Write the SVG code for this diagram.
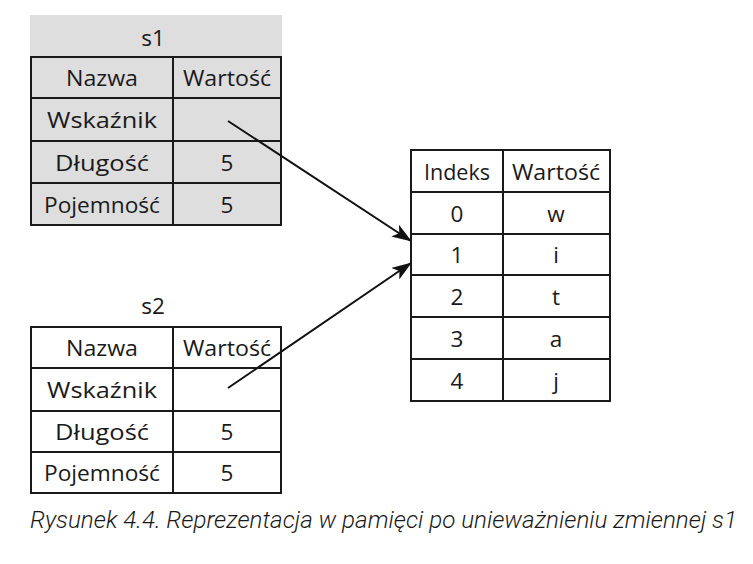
<svg xmlns="http://www.w3.org/2000/svg" width="753" height="564" viewBox="0 0 753 564">
  <style>
    .cell { stroke: #1a1a1a; stroke-width: 2; }
    .shade { fill: #dedede; }
    .plain { fill: #ffffff; }
    .t { font-family: "Open Sans", "Noto Sans", sans-serif; font-size: 22.5px; fill: #1a1a1a; text-anchor: middle; dominant-baseline: central; }
    .cap { font-family: "Roboto", "Liberation Sans", sans-serif; font-style: italic; font-weight: 300; font-size: 24px; fill: #1a1a1a; }
    .conn { stroke: #111; stroke-width: 2; fill: none; marker-end: url(#arrow); }
  </style>
  <defs>
    <marker id="arrow" viewBox="0 0 20 14" refX="19" refY="7" markerWidth="20" markerHeight="14" markerUnits="userSpaceOnUse" orient="auto">
      <path d="M0,0 L20,7 L0,14 L5,7 Z" fill="#111"/>
    </marker>
  </defs>
  <rect width="753" height="564" fill="#ffffff"/>

  <!-- s1 structure (shaded) -->
  <g id="s1">
    <rect x="30" y="15" width="252" height="42" class="shade"/>
    <text x="153" y="37" class="t">s1</text>
    <rect x="31" y="57" width="250" height="168" class="shade cell"/>
    <line x1="173" y1="57" x2="173" y2="225" class="cell"/>
    <line x1="31" y1="98" x2="281" y2="98" class="cell"/>
    <line x1="31" y1="141" x2="281" y2="141" class="cell"/>
    <line x1="31" y1="183" x2="281" y2="183" class="cell"/>
    <text x="102" y="77" class="t" textLength="72" lengthAdjust="spacingAndGlyphs">Nazwa</text>
    <text x="227" y="77" class="t" textLength="88" lengthAdjust="spacingAndGlyphs">Wartość</text>
    <text x="102" y="119" class="t" textLength="110" lengthAdjust="spacingAndGlyphs">Wskaźnik</text>
    <text x="102" y="162" class="t" textLength="94" lengthAdjust="spacingAndGlyphs">Długość</text>
    <text x="227" y="162" class="t">5</text>
    <text x="102" y="204" class="t" textLength="116" lengthAdjust="spacingAndGlyphs">Pojemność</text>
    <text x="227" y="204" class="t">5</text>
  </g>

  <!-- s2 structure -->
  <g id="s2">
    <text x="153" y="305" class="t">s2</text>
    <rect x="31" y="327" width="250" height="166" class="plain cell"/>
    <line x1="173" y1="327" x2="173" y2="493" class="cell"/>
    <line x1="31" y1="368" x2="281" y2="368" class="cell"/>
    <line x1="31" y1="411" x2="281" y2="411" class="cell"/>
    <line x1="31" y1="452" x2="281" y2="452" class="cell"/>
    <text x="102" y="347" class="t" textLength="72" lengthAdjust="spacingAndGlyphs">Nazwa</text>
    <text x="227" y="347" class="t" textLength="88" lengthAdjust="spacingAndGlyphs">Wartość</text>
    <text x="102" y="389" class="t" textLength="110" lengthAdjust="spacingAndGlyphs">Wskaźnik</text>
    <text x="102" y="431" class="t" textLength="94" lengthAdjust="spacingAndGlyphs">Długość</text>
    <text x="227" y="431" class="t">5</text>
    <text x="102" y="472" class="t" textLength="116" lengthAdjust="spacingAndGlyphs">Pojemność</text>
    <text x="227" y="472" class="t">5</text>
  </g>

  <!-- heap buffer -->
  <g id="heap">
    <rect x="411" y="150" width="199" height="251" class="plain cell"/>
    <line x1="503" y1="150" x2="503" y2="401" class="cell"/>
    <line x1="411" y1="192" x2="610" y2="192" class="cell"/>
    <line x1="411" y1="234" x2="610" y2="234" class="cell"/>
    <line x1="411" y1="275" x2="610" y2="275" class="cell"/>
    <line x1="411" y1="317" x2="610" y2="317" class="cell"/>
    <line x1="411" y1="359" x2="610" y2="359" class="cell"/>
    <text x="457" y="171" class="t" textLength="66" lengthAdjust="spacingAndGlyphs">Indeks</text>
    <text x="556" y="171" class="t" textLength="88" lengthAdjust="spacingAndGlyphs">Wartość</text>
    <text x="457" y="213" class="t">0</text>
    <text x="556" y="213" class="t">w</text>
    <text x="457" y="254" class="t">1</text>
    <text x="556" y="254" class="t">i</text>
    <text x="457" y="296" class="t">2</text>
    <text x="556" y="296" class="t">t</text>
    <text x="457" y="338" class="t">3</text>
    <text x="556" y="338" class="t">a</text>
    <text x="457" y="380" class="t">4</text>
    <text x="556" y="380" class="t">j</text>
  </g>

  <!-- pointers -->
  <g id="connectors">
    <line x1="228" y1="121" x2="411" y2="241" class="conn"/>
    <line x1="228" y1="388" x2="411" y2="263" class="conn"/>
  </g>

  <text x="30" y="528" class="cap" textLength="707" lengthAdjust="spacingAndGlyphs">Rysunek 4.4. Reprezentacja w pamięci po unieważnieniu zmiennej s1</text>
</svg>
